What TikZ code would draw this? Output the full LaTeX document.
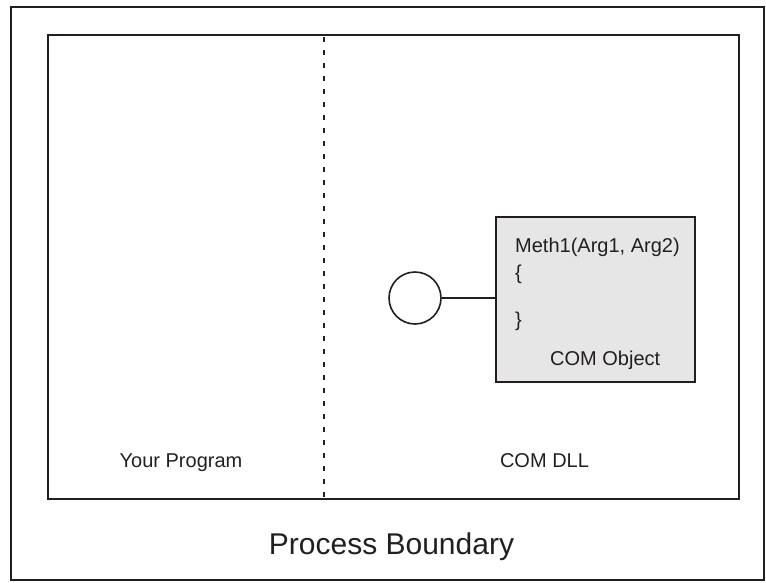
\documentclass[tikz,border=0pt]{standalone}
\usepackage{fontspec}
\setmainfont{Liberation Sans}
\definecolor{boxgray}{RGB}{230,230,230}
\definecolor{inkc}{RGB}{35,31,32}
\begin{document}
\begin{tikzpicture}[x=1pt,y=-1pt,
  frame/.style={draw=inkc,line width=2pt},
  lbl/.style={inner sep=0pt,anchor=base west,text=inkc,font=\fontsize{20}{24}\selectfont},
  clbl/.style={inner sep=0pt,anchor=base,text=inkc,font=\fontsize{20}{24}\selectfont}]
\useasboundingbox (0,0) rectangle (766,582);
% outer process boundary and inner region
\draw[frame] (11,7) rectangle (764,580);
\draw[frame] (48,35) rectangle (739,499);
\coordinate (divtop) at (324,35);
\coordinate (divbot) at (324,499);
\draw[draw=inkc,line width=2pt,dash pattern=on 5pt off 8pt,dash phase=-2pt] (divtop) -- (divbot);
% COM object box and interface circle
\node[draw=inkc,line width=2pt,fill=boxgray,minimum width=199pt,minimum height=165pt,inner sep=0pt] (obj) at (595.5,299.5) {};
\node[draw=inkc,line width=1.6pt,circle,minimum size=52pt,inner sep=0pt] (iface) at (415,298) {};
\draw[draw=inkc,line width=2pt] (iface.east) -- (obj.west |- iface.east);
% texts inside the object
\node[lbl] (meth) at (515,252) {Meth1(Arg1, Arg2)};
\node[lbl] (lbrace) at (515,279) {\{};
\node[lbl] (rbrace) at (515,326) {\}};
\node[lbl] (comobj) at (550,365) {COM Object};
% region labels
\node[clbl] (yourprog) at (181,467) {Your Program};
\node[clbl] (comdll) at (544.5,467) {COM DLL};
\node[inner sep=0pt,anchor=base,text=inkc,font=\fontsize{30}{36}\selectfont] (pb) at (391.5,554) {Process Boundary};
\end{tikzpicture}
\end{document}
